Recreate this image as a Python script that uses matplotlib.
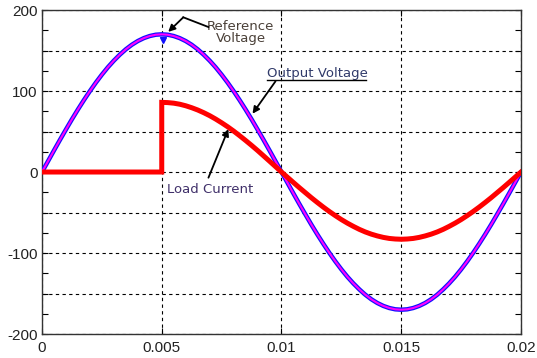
import matplotlib
matplotlib.use("Agg")
import matplotlib.pyplot as plt
from matplotlib.ticker import FixedLocator, FixedFormatter

# ---- data ----
t_v = [0.0, 0.00025, 0.0005, 0.00075, 0.001, 0.00125, 0.0015, 0.00175, 0.002, 0.00225,
       0.0025, 0.00275, 0.003, 0.00325, 0.0035, 0.00375, 0.004, 0.00425, 0.0045, 0.00475,
       0.005, 0.00525, 0.0055, 0.00575, 0.006, 0.00625, 0.0065, 0.00675, 0.007, 0.00725,
       0.0075, 0.00775, 0.008, 0.00825, 0.0085, 0.00875, 0.009, 0.00925, 0.0095, 0.00975,
       0.01, 0.01025, 0.0105, 0.01075, 0.011, 0.01125, 0.0115, 0.01175, 0.012, 0.01225,
       0.0125, 0.01275, 0.013, 0.01325, 0.0135, 0.01375, 0.014, 0.01425, 0.0145, 0.01475,
       0.015, 0.01525, 0.0155, 0.01575, 0.016, 0.01625, 0.0165, 0.01675, 0.017, 0.01725,
       0.0175, 0.01775, 0.018, 0.01825, 0.0185, 0.01875, 0.019, 0.01925, 0.0195, 0.01975,
       0.02]
ref_voltage = [0, 13.3, 26.6, 39.7, 52.5, 65.1, 77.2, 88.8, 99.9, 110.4,
               120.2, 129.3, 137.5, 144.9, 151.5, 157.1, 161.7, 165.3, 167.9, 169.5,
               170, 169.5, 167.9, 165.3, 161.7, 157.1, 151.5, 144.9, 137.5, 129.3,
               120.2, 110.4, 99.9, 88.8, 77.2, 65.1, 52.5, 39.7, 26.6, 13.3,
               0, -13.3, -26.6, -39.7, -52.5, -65.1, -77.2, -88.8, -99.9, -110.4,
               -120.2, -129.3, -137.5, -144.9, -151.5, -157.1, -161.7, -165.3, -167.9, -169.5,
               -170, -169.5, -167.9, -165.3, -161.7, -157.1, -151.5, -144.9, -137.5, -129.3,
               -120.2, -110.4, -99.9, -88.8, -77.2, -65.1, -52.5, -39.7, -26.6, -13.3,
               0]
out_voltage = [0, 13.3, 26.6, 39.7, 52.5, 65.1, 77.2, 88.8, 99.9, 110.4,
               120.2, 129.3, 137.5, 144.9, 151.5, 157.1, 161.7, 165.3, 167.9, 169.5,
               170, 169.5, 167.9, 165.3, 161.7, 157.1, 151.5, 144.9, 137.5, 129.3,
               120.2, 110.4, 99.9, 88.8, 77.2, 65.1, 52.5, 39.7, 26.6, 13.3,
               0, -13.3, -26.6, -39.7, -52.5, -65.1, -77.2, -88.8, -99.9, -110.4,
               -120.2, -129.3, -137.5, -144.9, -151.5, -157.1, -161.7, -165.3, -167.9, -169.5,
               -170, -169.5, -167.9, -165.3, -161.7, -157.1, -151.5, -144.9, -137.5, -129.3,
               -120.2, -110.4, -99.9, -88.8, -77.2, -65.1, -52.5, -39.7, -26.6, -13.3,
               0]
# load current: zero until the switch-on instant, then follows the curve
t_i_off = [0.0, 0.005]
load_current_off = [0, 0]
t_i_on = t_v[20:]
load_current_on = [86, 85.7, 85.0, 83.7, 81.8, 79.4, 76.6, 73.3, 69.6, 65.4,
                   60.8, 55.9, 50.6, 44.9, 39.0, 32.9, 26.6, 20.0, 13.4, 6.7,
                   0, -6.5, -13.0, -19.4, -25.6, -31.8, -37.7, -43.4, -48.8, -53.9,
                   -58.7, -63.1, -67.1, -70.8, -74.0, -76.7, -78.9, -80.7, -82.0, -82.7,
                   -83, -82.7, -82.0, -80.7, -78.9, -76.7, -74.0, -70.8, -67.1, -63.1,
                   -58.7, -53.9, -48.8, -43.4, -37.7, -31.8, -25.6, -19.4, -13.0, -6.5,
                   0]
blip_t = [0.00505]
blip_v = [163]

x_ticks = [0, 0.005, 0.01, 0.015, 0.02]
x_labels = ['0', '0.005', '0.01', '0.015', '0.02']
y_major = [-200, -150, -100, -50, 0, 50, 100, 150, 200]
y_labels = ['-200', '', '-100', '', '0', '', '100', '', '200']
y_minor = [-175, -125, -75, -25, 25, 75, 125, 175]

plt.rcParams['font.family'] = ['Liberation Sans', 'DejaVu Sans']

fig = plt.figure(figsize=(5.37, 3.58), dpi=100)
ax = fig.add_axes([0.0782, 0.067, 0.892, 0.905])

ax.plot(t_v, ref_voltage, color='#1010ff', lw=3.2, solid_capstyle='round', zorder=3)
ax.plot(t_v, out_voltage, color='#ff00ff', lw=1.5, zorder=4)
ax.plot(blip_t, blip_v, marker='v', color='#1010ff', ms=5, ls='none', zorder=3)
ax.plot(t_i_off + t_i_on, load_current_off + load_current_on, color='#ff0000',
        lw=3.6, solid_joinstyle='miter', zorder=5)

ax.set_xlim(0, 0.02)
ax.set_ylim(-200, 200)
ax.xaxis.set_major_locator(FixedLocator(x_ticks))
ax.xaxis.set_major_formatter(FixedFormatter(x_labels))
ax.yaxis.set_major_locator(FixedLocator(y_major))
ax.yaxis.set_major_formatter(FixedFormatter(y_labels))
ax.yaxis.set_minor_locator(FixedLocator(y_minor))

ax.tick_params(axis='both', which='both', direction='in', top=True, right=True,
               labelsize=11, colors='black', labelcolor='#222222')
ax.tick_params(which='major', length=4, width=0.8)
ax.tick_params(which='minor', length=4, width=0.8)
ax.tick_params(axis='x', pad=5)
ax.tick_params(axis='y', pad=3)

ax.grid(True, which='major', color='black', ls=(0, (3, 3)), lw=0.8)
for s in ax.spines.values():
    s.set_linewidth(1.0)
    s.set_color('#333333')

afont = dict(family=['DejaVu Sans'], fontsize=9.5)

# Reference Voltage annotation
ax.text(0.0083, 172, 'Reference\nVoltage', ha='center', va='center',
        color='#4a4038', linespacing=0.85, **afont)
ax.plot([0.00695, 0.0059], [179, 191], color='black', lw=1.3, zorder=6)
ax.annotate('', xy=(0.00527, 173), xytext=(0.0059, 191),
            arrowprops=dict(arrowstyle='-|>', color='black', lw=1.3,
                            mutation_scale=10, shrinkA=0, shrinkB=0), zorder=6)

# Output Voltage annotation
ax.text(0.00941, 122, 'Output Voltage', ha='left', va='center',
        color='#303a6a', **afont)
ax.plot([0.00941, 0.01351], [113, 113], color='black', lw=1.0, zorder=6)
ax.annotate('', xy=(0.00879, 72), xytext=(0.00975, 112),
            arrowprops=dict(arrowstyle='-|>', color='black', lw=1.3,
                            mutation_scale=10, shrinkA=0, shrinkB=0), zorder=6)

# Load Current annotation
ax.text(0.00523, -22, 'Load Current', ha='left', va='center',
        color='#40306a', **afont)
ax.annotate('', xy=(0.00778, 53), xytext=(0.00695, -7),
            arrowprops=dict(arrowstyle='-|>', color='black', lw=1.3,
                            mutation_scale=10, shrinkA=0, shrinkB=0), zorder=6)

fig.savefig('out.png', dpi=100)
